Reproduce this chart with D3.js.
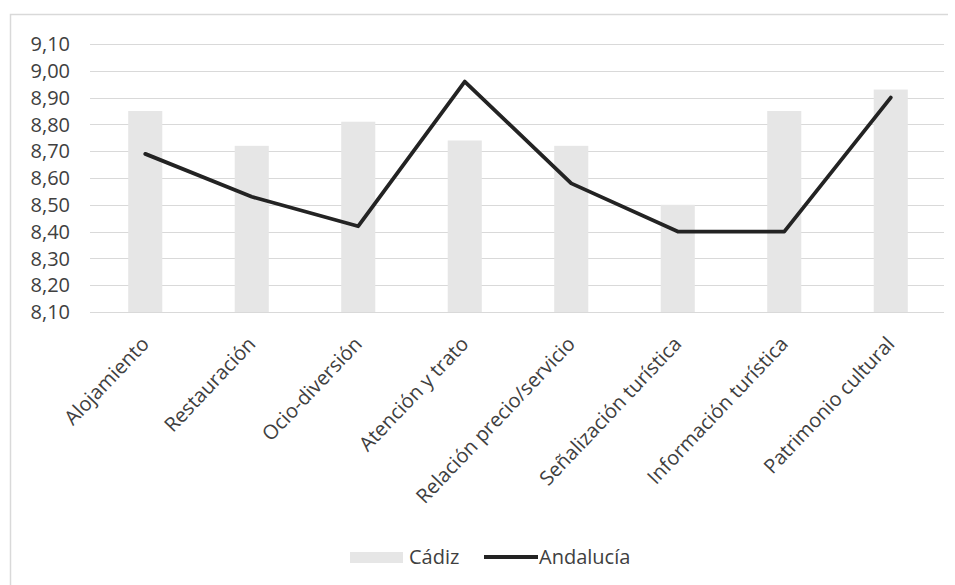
<!DOCTYPE html>
<html>
<head>
<meta charset="utf-8">
<script src="https://cdn.jsdelivr.net/npm/d3@7"></script>
<style>
  html, body { margin: 0; padding: 0; background: #fff; }
  svg { display: block; }
  text { font-family: "Open Sans", "Noto Sans", sans-serif; fill: #404040; }
</style>
</head>
<body>
<script>
const categories = ["Alojamiento", "Restauración", "Ocio-diversión", "Atención y trato",
  "Relación precio/servicio", "Señalización turística", "Información turística", "Patrimonio cultural"];
const cadiz = [8.85, 8.72, 8.81, 8.74, 8.72, 8.50, 8.85, 8.93];
const andalucia = [8.69, 8.53, 8.42, 8.96, 8.58, 8.40, 8.40, 8.90];
const yTicks = [8.10, 8.20, 8.30, 8.40, 8.50, 8.60, 8.70, 8.80, 8.90, 9.00, 9.10];
const seriesNames = ["Cádiz", "Andalucía"];

const W = 955, H = 585;
const svg = d3.select("body").append("svg").attr("width", W).attr("height", H);

// chart border (top and left visible)
svg.append("path").attr("d", "M10.5,585 V14.5 H948")
  .attr("fill", "none").attr("stroke", "#d9d9d9").attr("stroke-width", 1.5);

const x = d3.scaleBand().domain(categories).range([92, 944]).paddingInner(0.68).paddingOuter(0.34);
const y = d3.scaleLinear().domain([8.10, 9.10]).range([312, 44]);

// gridlines
svg.append("g").selectAll("line").data(yTicks).join("line")
  .attr("x1", 90).attr("x2", 944)
  .attr("y1", d => Math.round(y(d)) + 0.5).attr("y2", d => Math.round(y(d)) + 0.5)
  .attr("stroke", "#d9d9d9").attr("stroke-width", 1.2);

// y labels
const fmt = d => d3.format(".2f")(d).replace(".", ",");
svg.append("g").selectAll("text").data(yTicks).join("text")
  .attr("x", 70).attr("y", d => y(d)).attr("dy", "0.36em")
  .attr("text-anchor", "end").attr("font-size", 20).text(fmt);

// bars
svg.append("g").selectAll("rect").data(categories).join("rect")
  .attr("x", d => x(d)).attr("width", x.bandwidth())
  .attr("y", (d, i) => y(cadiz[i])).attr("height", (d, i) => y(8.10) - y(cadiz[i]))
  .attr("fill", "#e6e6e6");

// line
const cx = d => x(d) + x.bandwidth() / 2;
const line = d3.line().x((d, i) => cx(categories[i])).y(d => y(d));
svg.append("path").datum(andalucia).attr("d", line)
  .attr("fill", "none").attr("stroke", "#232323").attr("stroke-width", 3.8)
  .attr("stroke-linejoin", "round").attr("stroke-linecap", "round");

// x labels
svg.append("g").selectAll("text").data(categories).join("text")
  .attr("transform", d => `translate(${cx(d) + 5},${345}) rotate(-46.5)`)
  .attr("text-anchor", "end").attr("font-size", 20).text(d => d);

// legend
const lg = svg.append("g");
lg.append("rect").attr("x", 350).attr("y", 552).attr("width", 53).attr("height", 11).attr("fill", "#e6e6e6");
lg.append("text").attr("x", 409).attr("y", 564).attr("font-size", 20).text(seriesNames[0]);
lg.append("line").attr("x1", 484).attr("x2", 538).attr("y1", 557).attr("y2", 557)
  .attr("stroke", "#232323").attr("stroke-width", 3.8);
lg.append("text").attr("x", 539).attr("y", 564).attr("font-size", 20).text(seriesNames[1]);
</script>
</body>
</html>
